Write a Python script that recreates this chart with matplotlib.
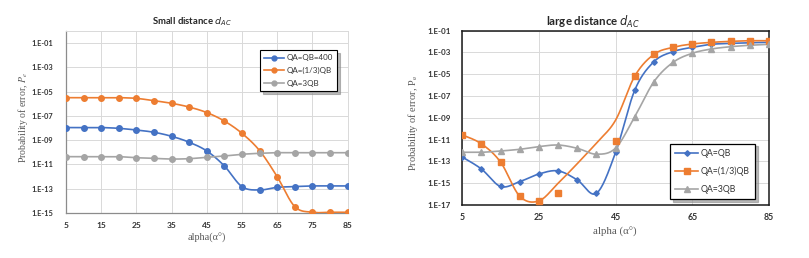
import numpy as np
import matplotlib
matplotlib.use("Agg")
import matplotlib.pyplot as plt
from matplotlib.lines import Line2D
from matplotlib.ticker import FixedLocator, FixedFormatter, NullLocator

# ---------------- data ----------------
alpha = [5, 10, 15, 20, 25, 30, 35, 40, 45, 50, 55, 60, 65, 70, 75, 80, 85]

# Small distance d_AC
small_qa_eq_qb = [1.1e-8, 1.1e-8, 1.1e-8, 9.5e-9, 6.9e-9, 4.5e-9, 2.1e-9, 6.8e-10, 1.3e-10,
                  7.6e-12, 1.5e-13, 7.9e-14, 1.3e-13, 1.5e-13, 1.7e-13, 1.7e-13, 1.7e-13]
small_qa_third = [3.2e-6, 3.2e-6, 3.2e-6, 3.2e-6, 2.8e-6, 1.8e-6, 1.1e-6, 5.4e-7, 1.9e-7,
                  3.8e-8, 3.7e-9, 1.4e-10, 1.0e-12, 3.4e-15, 1.15e-15, 1.15e-15, 1.15e-15]
small_qa_3qb = [4.4e-11, 4.4e-11, 4.4e-11, 4.4e-11, 3.6e-11, 3.2e-11, 2.8e-11, 3.0e-11, 3.9e-11,
                5.0e-11, 6.9e-11, 8.3e-11, 9.3e-11, 9.3e-11, 9.3e-11, 9.3e-11, 9.3e-11]
small_labels = ["QA=QB=400", "QA=(1/3)QB", "QA=3QB"]

# Large distance d_AC
large_qa_eq_qb = [2.5e-13, 2.0e-14, 5.0e-16, 1.4e-15, 7.1e-15, 1.35e-14, 2.0e-15, 1.2e-16, 6.9e-13,
                  3.6e-7, 1.45e-4, 1.2e-3, 3.0e-3, 5.6e-3, 6.9e-3, 7.9e-3, 8.5e-3]
large_third_alpha = [5, 10, 15, 20, 25, 30, 45, 50, 55, 60, 65, 70, 75, 80, 85]
large_qa_third = [2.7e-11, 4.1e-12, 8.5e-14, 6.3e-17, 2.4e-17, 1.2e-16, 8.1e-12,
                  6.9e-6, 6.8e-4, 3.0e-3, 6.0e-3, 8.5e-3, 1.05e-2, 1.2e-2, 1.2e-2]
large_third_curve = [2.7e-11, 4.1e-12, 8.5e-14, 6.3e-17, 2.4e-17, 1.0e-15, 6.3e-14, 5.0e-12, 6.3e-10,
                     6.9e-6, 6.8e-4, 3.0e-3, 6.0e-3, 8.5e-3, 1.05e-2, 1.2e-2, 1.2e-2]
large_qa_3qb = [6.9e-13, 6.9e-13, 9.1e-13, 1.3e-12, 2.3e-12, 3.2e-12, 1.6e-12, 4.6e-13, 1.7e-12,
                1.3e-9, 2.1e-6, 1.26e-4, 8.5e-4, 2.1e-3, 3.4e-3, 4.6e-3, 5.6e-3]
large_labels = ["QA=QB", "QA=(1/3)QB", "QA=3QB"]

small_yticks_exp = [-15, -13, -11, -9, -7, -5, -3, -1]
large_yticks_exp = [-17, -15, -13, -11, -9, -7, -5, -3, -1]
small_xticks = [5, 15, 25, 35, 45, 55, 65, 75, 85]
large_xticks = [5, 25, 45, 65, 85]

BLUE, ORANGE, GRAY = "#4472C4", "#ED7D31", "#A5A5A5"
TICKC = "#333333"
LABC = "#595959"


def smooth(x, y, n=30):
    """Catmull-Rom smoothing in (x, log10 y) space, like Excel's smoothed lines."""
    x = np.asarray(x, float)
    ly = np.log10(np.asarray(y, float))
    P = np.column_stack([x, ly])
    P = np.vstack([P[0], P, P[-1]])
    out = []
    for i in range(1, len(P) - 2):
        p0, p1, p2, p3 = P[i - 1], P[i], P[i + 1], P[i + 2]
        c1 = p1 + (p2 - p0) / 6.0
        c2 = p2 - (p3 - p1) / 6.0
        t = np.linspace(0, 1, n)[:, None]
        seg = ((1 - t) ** 3) * p1 + 3 * ((1 - t) ** 2) * t * c1 + 3 * (1 - t) * t ** 2 * c2 + t ** 3 * p2
        out.append(seg if i == 1 else seg[1:])
    out = np.vstack(out)
    return out[:, 0], 10 ** out[:, 1]


fig = plt.figure(figsize=(8.09, 2.58), dpi=100)

# ---------------- left chart ----------------
axL = fig.add_axes([66 / 809, 1 - 213 / 258, (347.5 - 66) / 809, (213 - 31) / 258])
for vals, col, lab in zip([small_qa_eq_qb, small_qa_third, small_qa_3qb], [BLUE, ORANGE, GRAY], small_labels):
    sx, sy = smooth(alpha, vals)
    axL.plot(sx, sy, color=col, lw=1.2, zorder=3)
    axL.plot(alpha, vals, 'o', color=col, ms=4, zorder=4)
axL.set_yscale('log')
axL.set_xlim(5, 85)
axL.set_ylim(1e-15, 1e0)
axL.yaxis.set_major_locator(FixedLocator([10.0 ** e for e in small_yticks_exp]))
axL.yaxis.set_major_formatter(FixedFormatter(["1.E%03d" % e for e in small_yticks_exp]))
axL.yaxis.set_minor_locator(NullLocator())
axL.set_xticks(small_xticks)
axL.set_xticklabels([str(v) for v in small_xticks])
axL.grid(True, color="#D9D9D9", lw=0.7)
axL.set_axisbelow(True)
for s in ["top", "right"]:
    axL.spines[s].set_color("#D9D9D9")
    axL.spines[s].set_linewidth(0.7)
for s in ["left", "bottom"]:
    axL.spines[s].set_color("#8C8C8C")
    axL.spines[s].set_linewidth(0.9)
axL.tick_params(axis='y', length=0, labelsize=5.3, colors=TICKC, pad=9)
axL.tick_params(axis='x', length=0, labelsize=6, colors=TICKC, pad=6.5)
for t in axL.get_xticklabels() + axL.get_yticklabels():
    t.set_fontweight("bold")
    t.set_fontfamily("Lato")

hL = [Line2D([], [], color=c, lw=1.2, marker='o', ms=3.5) for c in [BLUE, ORANGE, GRAY]]
legL = fig.legend(hL, small_labels, loc="upper left", bbox_to_anchor=(256 / 809, 1 - 46 / 258),
                  frameon=True, fancybox=False, shadow={'color': '0.55', 'alpha': 0.6},
                  prop={'family': 'Lato', 'size': 5.8}, handlelength=2.4, borderpad=0.55,
                  labelspacing=0.7, handletextpad=0.3)
legL.get_frame().set_edgecolor("black")
legL.get_frame().set_linewidth(0.8)
for t in legL.get_texts():
    t.set_color(TICKC)

fig.text(192 / 809, 1 - 22 / 258, r"Small distance $d_{AC}$", ha="center", va="center",
         fontsize=6.8, fontweight="bold", family="Lato", color="#262626")
fig.text(23 / 809, 1 - 118 / 258, r"Probability of error, $P_e$", rotation=90, ha="center", va="center",
         fontsize=7, family="Liberation Serif", color=LABC, math_fontfamily="stix")
fig.text(207 / 809, 1 - 238 / 258, "alpha(α°)", ha="center", va="center",
         fontsize=7.3, family="Liberation Serif", color=LABC)

# ---------------- right chart ----------------
axR = fig.add_axes([462.3 / 809, 1 - 205 / 258, (769 - 462.3) / 809, (205 - 30.7) / 258])
sx, sy = smooth(alpha, large_qa_eq_qb)
axR.plot(sx, sy, color=BLUE, lw=1.2, zorder=3)
axR.plot(alpha, large_qa_eq_qb, 'D', color=BLUE, ms=2.8, zorder=4)
sx, sy = smooth(alpha, large_third_curve)
axR.plot(sx, sy, color=ORANGE, lw=1.2, zorder=3)
axR.plot(large_third_alpha, large_qa_third, 's', color=ORANGE, ms=4.5, zorder=4)
sx, sy = smooth(alpha, large_qa_3qb)
axR.plot(sx, sy, color=GRAY, lw=1.2, zorder=3)
axR.plot(alpha, large_qa_3qb, '^', color=GRAY, ms=4.5, zorder=4)
axR.set_yscale('log')
axR.set_xlim(5, 85)
axR.set_ylim(1e-17, 1e-1)
axR.yaxis.set_major_locator(FixedLocator([10.0 ** e for e in large_yticks_exp]))
axR.yaxis.set_major_formatter(FixedFormatter(["1.E%03d" % e for e in large_yticks_exp]))
axR.yaxis.set_minor_locator(NullLocator())
axR.set_xticks(large_xticks)
axR.set_xticklabels([str(v) for v in large_xticks])
axR.grid(True, color="#D9D9D9", lw=0.7)
axR.set_axisbelow(True)
for s in axR.spines.values():
    s.set_color("#1a1a1a")
    s.set_linewidth(1.1)
axR.tick_params(axis='y', length=0, labelsize=5.8, colors=TICKC, pad=8)
axR.tick_params(axis='x', length=0, labelsize=6.3, colors=TICKC, pad=6)
for t in axR.get_xticklabels() + axR.get_yticklabels():
    t.set_fontweight("bold")
    t.set_fontfamily("Lato")

hR = [Line2D([], [], color=BLUE, lw=1.2, marker='D', ms=2.8),
      Line2D([], [], color=ORANGE, lw=1.2, marker='s', ms=4.5),
      Line2D([], [], color=GRAY, lw=1.2, marker='^', ms=4.5)]
legR = fig.legend(hR, large_labels, loc="upper left", bbox_to_anchor=(665.7 / 809, 1 - 139.3 / 258),
                  frameon=True, fancybox=False, shadow={'color': '0.55', 'alpha': 0.6},
                  prop={'family': 'Lato', 'size': 6.3}, handlelength=2.6, borderpad=0.6,
                  labelspacing=1.0, handletextpad=0.3)
legR.get_frame().set_edgecolor("black")
legR.get_frame().set_linewidth(0.9)
for t in legR.get_texts():
    t.set_color(TICKC)

fig.text(593 / 809, 1 - 22 / 258, r"large distance $d_{AC}$", ha="center", va="center",
         fontsize=8.3, fontweight="bold", family="Lato", color="#262626")
fig.text(413 / 809, 1 - 123 / 258, r"Probability of error, P$_{\rm e}$", rotation=90, ha="center", va="center",
         fontsize=7.5, family="Liberation Serif", color=LABC, math_fontfamily="stix")
fig.text(615 / 809, 1 - 232 / 258, "alpha (α°)", ha="center", va="center",
         fontsize=7.8, family="Liberation Serif", color=LABC)

fig.savefig("out.png", dpi=100, facecolor="white")
